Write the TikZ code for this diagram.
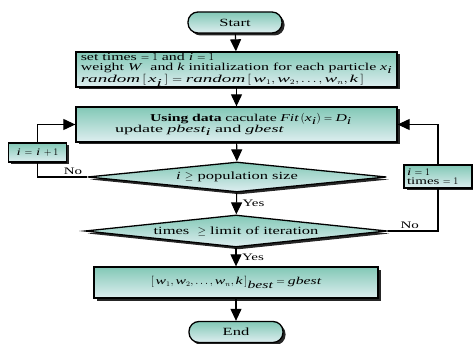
\documentclass[tikz,border=0pt]{standalone}
\usepackage{fontspec}
\usepackage{graphicx}
\setmainfont{Liberation Serif}[FakeStretch=1.5]
\usetikzlibrary{shapes.geometric,shadows,arrows.meta}

\definecolor{tealA}{RGB}{130,200,182}
\definecolor{tealB}{RGB}{222,238,240}
\newcommand{\mi}[1]{\textit{#1}}

\tikzset{
  flowbox/.style={draw=black, line width=1.3pt, top color=tealA, bottom color=tealB,
    drop shadow={shadow xshift=2.5pt, shadow yshift=-2.5pt, fill=black, opacity=0.85},
    inner sep=0pt, font=\fontsize{11}{11}\selectfont},
  term/.style={flowbox, rounded corners=10pt, minimum width=94pt, minimum height=21pt},
  procbox/.style={flowbox, rectangle},
  decision/.style={flowbox, diamond, shape aspect=12},
  conn/.style={line width=1.1pt, -{Triangle[length=12pt,width=11pt]}},
  plainline/.style={line width=1.1pt},
  lbl/.style={font=\fontsize{10}{10}\selectfont, inner sep=1.5pt}
}

\begin{document}
\begin{tikzpicture}[x=1pt, y=-1pt]
\useasboundingbox (0,0) rectangle (473,344);

\node[term] (start) at (235,22.5) {Start};

\node[procbox, minimum width=321pt, minimum height=35pt, align=left,
  font=\fontsize{10.6}{10}\selectfont]
  (init) at (236.5,69.5)
  {set times $=1$ and \mi{i} $=1$\\
   weight \mi{W}\ \ and \mi{k}\ initialization for each particle $\mi{x}_{\mi{i}}$\\
   \scalebox{1.2}[1]{$\mi{random}\left[\,\mi{x}_{\mi{i}}\,\right]=\mi{random}\left[\,\mi{w}_1,\mi{w}_2,\ldots,\mi{w}_n,\mi{k}\,\right]$}};

\node[procbox, minimum width=321pt, minimum height=35pt, text width=307pt, align=left,
  font=\fontsize{10.5}{10.5}\selectfont]
  (update) at (236.5,124.5)
  {\hspace*{67pt}\textbf{Using data} caculate $\mi{Fit}\left(\mi{x}_{\mi{i}}\right)=\mi{D}_{\mi{i}}$\\
   \hspace*{32pt}\scalebox{1.15}[1]{update $\mi{pbest}_{\mi{i}}$ and \mi{gbest}}};

\node[decision, minimum width=299pt, minimum height=30pt] (d1) at (237,177)
  {\mi{i} $\geq$ population size};

\node[decision, minimum width=302pt, minimum height=32pt] (d2) at (236,231)
  {times\ \ $\geq$\ limit of iteration};

\node[procbox, minimum width=284pt, minimum height=31pt, font=\fontsize{10.5}{10.5}\selectfont]
  (best) at (236,282.5)
  {$\left[\,\mi{w}_1,\mi{w}_2,\ldots,\mi{w}_n,\mi{k}\,\right]_{\mi{best}}=\mi{gbest}$};

\node[term] (end) at (236,332) {End};

\node[procbox, minimum width=58pt, minimum height=19pt, font=\fontsize{10}{10}\selectfont]
  (inc) at (37.5,152.5) {\mi{i} $=$ \mi{i} $+\,1$};

\node[procbox, minimum width=68pt, minimum height=23pt, text width=62pt, align=left,
  font=\fontsize{10}{9.5}\selectfont] (reset) at (438,176.5) {\mi{i} $=1$\\ times $=1$};

\draw[conn] (start) -- (init);
\draw[conn] (init) -- (update);
\draw[conn] (update) -- (d1);
\draw[conn] (d1) -- node[lbl, right=4pt, pos=0.5] {Yes} (d2);
\draw[conn] (d2) -- node[lbl, right=4pt, pos=0.5] {Yes} (best);
\draw[conn] (best) -- (end);

\draw[plainline] (d1.west) -| node[lbl, above, pos=0.14] {No} (inc.south);
\draw[conn] (inc.north) |- (update.west);
\draw[plainline] (d2.east) -| node[lbl, above, pos=0.22] {No} (reset.south);
\draw[conn] (reset.north) |- (update.east);
\end{tikzpicture}
\end{document}
